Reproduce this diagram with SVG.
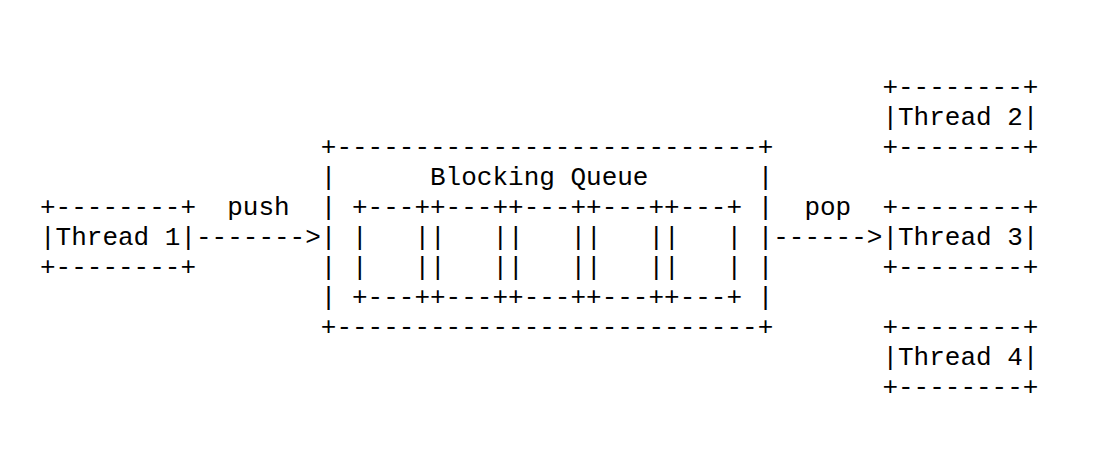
<svg xmlns="http://www.w3.org/2000/svg" width="1098" height="470" viewBox="0 0 1098 470">
<style>
text { font-family: "Liberation Mono", "Courier New", monospace; font-size: 26px; white-space: pre; fill: #000; }
</style>
<rect width="1098" height="470" fill="#fff"/>
<g id="thread1">
<text x="40" y="215">+--------+</text>
<text x="40" y="245">|Thread 1|</text>
<text x="40" y="275">+--------+</text>
</g>
<g id="thread2">
<text x="882.4" y="95">+--------+</text>
<text x="882.4" y="125">|Thread 2|</text>
<text x="882.4" y="155">+--------+</text>
</g>
<g id="thread3">
<text x="882.4" y="215">+--------+</text>
<text x="882.4" y="245">|Thread 3|</text>
<text x="882.4" y="275">+--------+</text>
</g>
<g id="thread4">
<text x="882.4" y="335">+--------+</text>
<text x="882.4" y="365">|Thread 4|</text>
<text x="882.4" y="395">+--------+</text>
</g>
<g id="queue">
<text x="320.8" y="155">+---------------------------+</text>
<text x="320.8" y="185">|      Blocking Queue       |</text>
<text x="320.8" y="215">| +---++---++---++---++---+ |</text>
<text x="320.8" y="245">| |   ||   ||   ||   ||   | |</text>
<text x="320.8" y="275">| |   ||   ||   ||   ||   | |</text>
<text x="320.8" y="305">| +---++---++---++---++---+ |</text>
<text x="320.8" y="335">+---------------------------+</text>
</g>
<g id="connectors">
<text x="227.2" y="215">push</text>
<text x="196" y="245">-------&gt;</text>
<text x="804.4" y="215">pop</text>
<text x="773.2" y="245">------&gt;</text>
</g>
</svg>
